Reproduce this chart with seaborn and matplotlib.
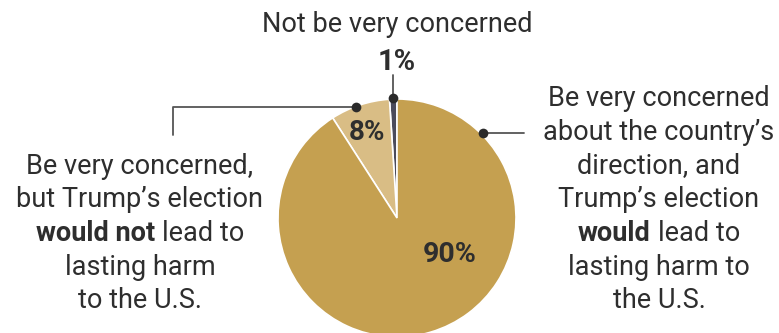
import matplotlib
matplotlib.use("Agg")
import matplotlib.pyplot as plt
import seaborn as sns

sns.set_theme(style="white")
plt.rcParams['font.family'] = ['Roboto', 'DejaVu Sans']

# ---- data ----
categories = ["Not be very concerned",
              "Be very concerned, but would not lead to lasting harm",
              "Be very concerned, and would lead to lasting harm"]
values = [1, 8, 90]
pct_labels = ["1%", "8%", "90%"]
colors = ["#4B4B5B", "#D9BD85", "#C5A050"]

TXT = "#2E2E2E"
LINE = "#555555"
W, H = 779, 333
FS = 19.5

fig = plt.figure(figsize=(W / 100, H / 100), dpi=100)
ax = fig.add_axes([0, 0, 1, 1])

def Y(py):
    return H - py

cx, cy, r = 397, 218, 119
ax.pie(values, colors=colors, startangle=90, counterclock=True,
       radius=r, center=(cx, Y(cy)),
       wedgeprops=dict(edgecolor="white", linewidth=1.2))
ax.set_xlim(0, W)
ax.set_ylim(0, H)
ax.axis("off")

fig.canvas.draw()
renderer = fig.canvas.get_renderer()

def width(s, weight="normal"):
    t = ax.text(0, 0, s, fontsize=FS, fontweight=weight)
    w = t.get_window_extent(renderer).width
    t.remove()
    return w

space_w = width("a a") - width("aa")

def rich_line(parts, xc, py):
    ws = [width(s, wt) for s, wt in parts]
    total = sum(ws) + space_w * (len(parts) - 1)
    x = xc - total / 2
    for (s, wt), w in zip(parts, ws):
        ax.text(x, Y(py), s, fontsize=FS, fontweight=wt, color=TXT,
                ha="left", va="baseline")
        x += w + space_w

def line(s, xc, py, weight="normal", fs=FS):
    ax.text(xc, Y(py), s, fontsize=fs, fontweight=weight, color=TXT,
            ha="center", va="baseline")

# top label
line("Not be very concerned", 397, 32)
line(pct_labels[0], 397, 70, weight="bold", fs=21)

# left label
left_x = 140
line("Be very concerned,", left_x, 174)
line("but Trump\u2019s election", left_x, 207)
rich_line([("would not", "bold"), ("lead to", "normal")], left_x, 241)
line("lasting harm", left_x, 275)
line("to the U.S.", left_x, 308)

# right label
right_x = 659
line("Be very concerned", right_x, 106)
line("about the country\u2019s", right_x, 140)
line("direction, and", right_x, 173)
line("Trump\u2019s election", right_x, 207)
rich_line([("would", "bold"), ("lead to", "normal")], right_x, 241)
line("lasting harm to", right_x, 275)
line("the U.S.", right_x, 308)

# percentages inside
line(pct_labels[1], 367, 140, weight="bold", fs=20)
line(pct_labels[2], 450, 262, weight="bold", fs=20.5)

# leader lines and dots
ax.plot([393, 393], [Y(75), Y(98)], color=LINE, lw=1.3)
ax.plot([356, 173, 173], [Y(107), Y(107), Y(135)], color=LINE, lw=1.3)
ax.plot([483, 524], [Y(133), Y(133)], color=LINE, lw=1.3)
ax.plot([393, 356, 483], [Y(98), Y(107), Y(133)], "o", ms=7,
        color="#2B2B2B", mec="none")

fig.savefig("out.png", dpi=100)
